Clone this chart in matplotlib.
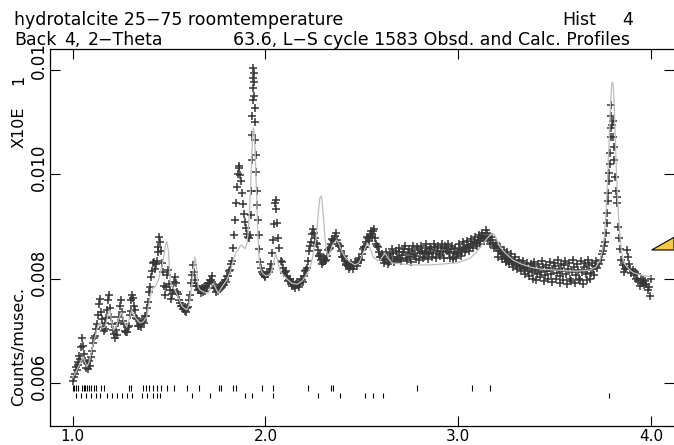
import numpy as np
import matplotlib
matplotlib.use("Agg")
import matplotlib.pyplot as plt
from matplotlib import transforms
from matplotlib.patches import Polygon

# ---------------- data (y values listed in units of 1e-5) ----------------
obs_x = [
    1.000, 1.005, 1.010, 1.015, 1.020, 1.025, 1.030, 1.035, 1.040, 1.045, 1.050, 1.055, 1.060, 1.065, 1.070,
    1.075, 1.080, 1.085, 1.090, 1.095, 1.100, 1.105, 1.110, 1.115, 1.120, 1.125, 1.130, 1.135, 1.140, 1.145,
    1.150, 1.155, 1.160, 1.165, 1.170, 1.175, 1.180, 1.185, 1.190, 1.195, 1.200, 1.205, 1.210, 1.215, 1.220,
    1.225, 1.230, 1.235, 1.240, 1.245, 1.250, 1.255, 1.260, 1.265, 1.270, 1.275, 1.280, 1.285, 1.290, 1.295,
    1.300, 1.305, 1.310, 1.315, 1.320, 1.325, 1.330, 1.335, 1.340, 1.345, 1.350, 1.355, 1.360, 1.365, 1.370,
    1.375, 1.380, 1.385, 1.390, 1.395, 1.400, 1.405, 1.410, 1.415, 1.420, 1.425, 1.430, 1.435, 1.440, 1.445,
    1.450, 1.455, 1.460, 1.465, 1.470, 1.475, 1.480, 1.485, 1.490, 1.495, 1.500, 1.505, 1.510, 1.515, 1.520,
    1.525, 1.530, 1.535, 1.540, 1.545, 1.550, 1.555, 1.560, 1.565, 1.570, 1.575, 1.580, 1.585, 1.590, 1.595,
    1.600, 1.605, 1.610, 1.615, 1.620, 1.625, 1.630, 1.635, 1.640, 1.645, 1.650, 1.655, 1.660, 1.665, 1.670,
    1.675, 1.680, 1.685, 1.690, 1.695, 1.700, 1.705, 1.710, 1.715, 1.720, 1.725, 1.730, 1.735, 1.740, 1.745,
    1.750, 1.755, 1.760, 1.765, 1.770, 1.775, 1.780, 1.785, 1.790, 1.795, 1.800, 1.805, 1.810, 1.815, 1.820,
    1.825, 1.830, 1.835, 1.840, 1.845, 1.850, 1.855, 1.860, 1.865, 1.870, 1.875, 1.880, 1.885, 1.890, 1.895,
    1.900, 1.905, 1.910, 1.915, 1.920, 1.923, 1.926, 1.928, 1.930, 1.932, 1.933, 1.934, 1.935, 1.936, 1.938,
    1.939, 1.941, 1.943, 1.946, 1.948, 1.951, 1.953, 1.956, 1.958, 1.961, 1.964, 1.967, 1.971, 1.975, 1.980,
    1.985, 1.990, 1.995, 2.000, 2.010, 2.020, 2.025, 2.030, 2.035, 2.040, 2.045, 2.050, 2.053, 2.056, 2.060,
    2.065, 2.070, 2.080, 2.090, 2.100, 2.110, 2.120, 2.130, 2.140, 2.150, 2.160, 2.170, 2.180, 2.190, 2.200,
    2.210, 2.220, 2.230, 2.240, 2.250, 2.260, 2.270, 2.280, 2.290, 2.300, 2.310, 2.320, 2.330, 2.340, 2.350,
    2.360, 2.370, 2.380, 2.390, 2.400, 2.410, 2.420, 2.430, 2.440, 2.450, 2.460, 2.470, 2.480, 2.490, 2.500,
    2.510, 2.520, 2.530, 2.540, 2.550, 2.560, 2.570, 2.580, 2.590, 2.600, 2.610, 2.620, 2.630, 2.640, 2.650,
    2.660, 2.670, 2.680, 2.690, 2.700, 2.710, 2.720, 2.730, 2.740, 2.750, 2.760, 2.770, 2.780, 2.790, 2.800,
    2.810, 2.820, 2.830, 2.840, 2.850, 2.860, 2.870, 2.880, 2.890, 2.900, 2.910, 2.920, 2.930, 2.940, 2.950,
    2.960, 2.970, 2.980, 2.990, 3.000, 3.010, 3.020, 3.030, 3.040, 3.050, 3.060, 3.070, 3.080, 3.090, 3.100,
    3.110, 3.120, 3.130, 3.140, 3.150, 3.160, 3.170, 3.180, 3.190, 3.200, 3.210, 3.220, 3.230, 3.240, 3.250,
    3.260, 3.270, 3.280, 3.290, 3.300, 3.310, 3.320, 3.330, 3.340, 3.350, 3.360, 3.370, 3.380, 3.390, 3.400,
    3.410, 3.420, 3.430, 3.440, 3.450, 3.460, 3.470, 3.480, 3.490, 3.500, 3.510, 3.520, 3.530, 3.540, 3.550,
    3.560, 3.570, 3.580, 3.590, 3.600, 3.610, 3.620, 3.630, 3.640, 3.650, 3.660, 3.670, 3.680, 3.690, 3.700,
    3.710, 3.720, 3.730, 3.740, 3.745, 3.750, 3.755, 3.760, 3.765, 3.770, 3.773, 3.776, 3.778, 3.781, 3.783,
    3.786, 3.788, 3.790, 3.791, 3.792, 3.794, 3.796, 3.800, 3.804, 3.807, 3.810, 3.813, 3.817, 3.821, 3.824,
    3.829, 3.834, 3.840, 3.846, 3.852, 3.858, 3.864, 3.870, 3.874, 3.880, 3.886, 3.892, 3.898, 3.904, 3.910,
    3.916, 3.922, 3.928, 3.934, 3.940, 3.946, 3.952, 3.958, 3.964, 3.970, 3.976, 3.982, 3.988, 3.994, 4.000,
    # interleaved points (second half-step)
    2.085, 2.095, 2.105, 2.115, 2.125, 2.135, 2.145, 2.155, 2.165, 2.175, 2.185, 2.195, 2.205, 2.215, 2.225,
    2.235, 2.245, 2.255, 2.265, 2.275, 2.285, 2.295, 2.305, 2.315, 2.325, 2.335, 2.345, 2.355, 2.365, 2.375,
    2.385, 2.395, 2.405, 2.415, 2.425, 2.435, 2.445, 2.455, 2.465, 2.475, 2.485, 2.495, 2.505, 2.515, 2.525,
    2.535, 2.545, 2.555, 2.565, 2.575, 2.585, 2.595, 2.605, 2.615,
    2.625, 2.635, 2.645, 2.655, 2.665, 2.675, 2.685, 2.695, 2.705, 2.715, 2.725, 2.735, 2.745, 2.755, 2.765,
    2.775, 2.785, 2.795, 2.805, 2.815, 2.825, 2.835, 2.845, 2.855, 2.865, 2.875, 2.885, 2.895, 2.905, 2.915,
    2.925, 2.935, 2.945, 2.955, 2.965, 2.975, 2.985, 2.995, 3.005, 3.015, 3.025, 3.035, 3.045, 3.055, 3.065,
    3.075, 3.085, 3.095, 3.105, 3.115, 3.125, 3.135, 3.145, 3.155, 3.165, 3.175, 3.185, 3.195,
    3.205, 3.215, 3.225, 3.235, 3.245, 3.255, 3.265, 3.275, 3.285, 3.295, 3.305, 3.315, 3.325, 3.335, 3.345,
    3.355, 3.365, 3.375, 3.385, 3.395, 3.405, 3.415, 3.425, 3.435, 3.445, 3.455, 3.465, 3.475, 3.485, 3.495,
    3.505, 3.515, 3.525, 3.535, 3.545, 3.555, 3.565, 3.575, 3.585, 3.595, 3.605, 3.615, 3.625, 3.635, 3.645,
    3.655, 3.665, 3.675, 3.685, 3.695, 3.705, 3.715,
]
obs_y = [
    604, 612, 618, 630, 624, 640, 634, 652, 646, 668, 686, 670, 655, 642, 628,
    638, 626, 642, 632, 650, 662, 676, 686, 690, 704, 712, 730, 752, 760, 735,
    722, 708, 700, 714, 704, 724, 740, 758, 768, 744, 726, 712, 702, 694, 686,
    702, 692, 714, 726, 748, 758, 736, 718, 712, 700, 698, 698, 708, 710, 730,
    738, 758, 768, 762, 748, 740, 724, 722, 710, 710, 712, 708, 718, 718, 714,
    728, 728, 744, 756, 774, 784, 802, 814, 830, 832, 818, 828, 834, 850, 860,
    880, 870, 852, 830, 812, 786, 768, 784, 806, 816, 790, 778, 760, 770, 778,
    794, 802, 792, 774, 770, 758, 754, 748, 748, 742, 744, 738, 746, 736, 744,
    746, 758, 768, 792, 806, 826, 812, 798, 786, 786, 778, 778, 778, 772, 782,
    774, 784, 776, 786, 782, 792, 792, 798, 798, 804, 794, 790, 782, 782, 774,
    782, 776, 784, 780, 788, 784, 792, 788, 798, 794, 804, 804, 814, 816, 828,
    834, 858, 884, 912, 944, 976, 1000, 1016, 1012, 998, 986, 964, 942, 924, 908,
    896, 886, 880, 878, 884, 922, 968, 1026, 1074, 1112, 1142, 1164, 1184, 1202, 1194,
    1176, 1150, 1126, 1100, 1066, 1036, 1004, 968, 940, 912, 884, 856, 832, 820, 812,
    808, 806, 804, 802, 808, 812, 818, 828, 848, 874, 904, 944, 950, 934, 906,
    878, 858, 834, 820, 812, 804, 798, 794, 790, 786, 790, 788, 792, 798, 804,
    816, 834, 862, 886, 888, 868, 854, 844, 836, 832, 834, 844, 856, 866, 874,
    882, 874, 862, 852, 842, 834, 828, 824, 822, 826, 824, 830, 832, 836, 846,
    860, 870, 878, 882, 886, 890, 878, 862, 850, 842, 838, 836, 844, 832, 840,
    848, 836, 842, 850, 838, 845, 856, 840, 848, 842, 852, 846, 838, 856, 848,
    852, 842, 858, 850, 846, 856, 848, 860, 852, 846, 858, 850, 862, 852, 848,
    856, 842, 850, 840, 848, 856, 852, 860, 856, 864, 860, 866, 870, 868, 874,
    872, 878, 882, 878, 888, 880, 874, 868, 862, 858, 852, 848, 846, 840, 844,
    836, 838, 832, 834, 826, 830, 822, 826, 818, 822, 814, 820, 812, 824, 816,
    808, 818, 812, 822, 806, 814, 820, 808, 816, 824, 810, 818, 804, 814, 826,
    808, 818, 800, 812, 822, 806, 816, 798, 812, 822, 808, 816, 826, 810, 818,
    824, 820, 828, 836, 846, 852, 862, 870, 888, 906, 926, 948, 964, 986, 1002,
    1020, 1040, 1132, 1112, 1070, 1088, 1094, 1102, 1070, 1052, 1026, 994, 968, 956, 944,
    898, 878, 856, 836, 826, 812, 818, 822, 854, 842, 828, 818, 810, 816, 806,
    812, 800, 808, 796, 786, 800, 792, 798, 788, 796, 790, 778, 784, 766, 800,
    # interleaved points
    832, 810, 814, 796, 800, 786, 794, 782, 794, 784, 800, 794, 814, 820, 852,
    870, 894, 878, 866, 844, 846, 828, 840, 836, 854, 858, 876, 872, 888, 866,
    862, 842, 844, 826, 832, 818, 830, 818, 832, 824, 840, 836, 856, 860, 880,
    872, 890, 880, 894, 866, 860, 842, 846, 830,
    850, 828, 846, 856, 832, 852, 838, 858, 834, 850, 862, 836, 856, 832, 862,
    844, 860, 836, 862, 840, 848, 866, 838, 860, 842, 866, 840, 862, 844, 866,
    840, 858, 866, 840, 862, 838, 858, 846, 866, 844, 870, 850, 872, 852, 876,
    858, 880, 862, 884, 866, 888, 872, 892, 876, 866, 880, 858, 868,
    842, 860, 838, 854, 832, 850, 828, 846, 822, 842, 818, 836, 814, 834, 808,
    830, 804, 828, 800, 832, 798, 828, 802, 834, 796, 826, 800, 832, 794, 830,
    800, 836, 792, 828, 798, 834, 790, 830, 796, 836, 792, 828, 800, 834, 790,
    830, 798, 836, 800, 830, 806, 834,
]

calc_x = [
    1.000, 1.017, 1.038, 1.055, 1.073, 1.085, 1.099, 1.116, 1.131, 1.142, 1.152, 1.168, 1.183, 1.193, 1.202,
    1.211, 1.225, 1.237, 1.254, 1.266, 1.280, 1.292, 1.306, 1.323, 1.349, 1.365, 1.384, 1.401, 1.416, 1.427,
    1.444, 1.462, 1.474, 1.481, 1.489, 1.497, 1.505, 1.515, 1.531, 1.546, 1.567, 1.591, 1.603, 1.617, 1.627,
    1.634, 1.642, 1.651, 1.660, 1.681, 1.703, 1.717, 1.729, 1.741, 1.755, 1.774, 1.799, 1.816, 1.833, 1.847,
    1.859, 1.868, 1.877, 1.886, 1.894, 1.903, 1.909, 1.914, 1.920, 1.925, 1.930, 1.934, 1.938, 1.941, 1.946,
    1.951, 1.955, 1.959, 1.964, 1.969, 1.977, 1.987, 2.003, 2.019, 2.029, 2.039, 2.047, 2.053, 2.060, 2.068,
    2.075, 2.091, 2.111, 2.137, 2.163, 2.189, 2.210, 2.226, 2.239, 2.246, 2.251, 2.259, 2.267, 2.275, 2.282,
    2.288, 2.293, 2.301, 2.309, 2.317, 2.324, 2.335, 2.350, 2.369, 2.381, 2.397, 2.412, 2.438, 2.464, 2.485,
    2.507, 2.528, 2.542, 2.559, 2.579, 2.594, 2.620, 2.636, 2.655, 2.698, 2.767, 2.853, 2.931, 2.992, 3.035,
    3.061, 3.092, 3.130, 3.155, 3.170, 3.186, 3.201, 3.217, 3.248, 3.285, 3.325, 3.372, 3.424, 3.510, 3.605,
    3.683, 3.714, 3.735, 3.748, 3.758, 3.766, 3.773, 3.779, 3.785, 3.790, 3.795, 3.799, 3.803, 3.808, 3.813,
    3.818, 3.824, 3.830, 3.839, 3.847, 3.856, 3.870, 3.891, 3.908, 3.943, 3.969, 4.000,
]
calc_y = [
    610, 621, 638, 650, 631, 640, 663, 688, 711, 715, 705, 707, 730, 740, 718,
    701, 707, 721, 736, 717, 707, 721, 740, 726, 715, 717, 726, 765, 782, 784,
    797, 822, 845, 864, 870, 851, 797, 784, 778, 765, 747, 740, 749, 784, 820,
    841, 820, 784, 778, 774, 772, 784, 791, 782, 772, 784, 797, 812, 835, 851,
    855, 862, 864, 860, 857, 866, 883, 912, 950, 998, 1046, 1080, 1088, 1079, 1046,
    989, 950, 902, 855, 830, 816, 809, 805, 807, 812, 824, 839, 847, 839, 826,
    816, 807, 799, 791, 789, 795, 805, 816, 832, 845, 855, 868, 893, 931, 954,
    958, 950, 916, 877, 851, 841, 851, 866, 874, 866, 851, 841, 832, 826, 830,
    849, 868, 858, 841, 835, 835, 849, 839, 830, 828, 826, 826, 828, 830, 835,
    839, 849, 868, 879, 885, 885, 874, 860, 847, 835, 828, 822, 818, 816, 814,
    816, 822, 835, 855, 883, 927, 979, 1036, 1088, 1136, 1167, 1176, 1171, 1142, 1084,
    1027, 969, 925, 879, 851, 835, 824, 816, 811, 807, 805, 803,
]

# reflection positions (two phases)
refl_row1 = [1.000, 1.008, 1.017, 1.027, 1.048, 1.057, 1.065, 1.074, 1.085, 1.095, 1.112, 1.121, 1.147, 1.162,
             1.294, 1.302, 1.363, 1.380, 1.397, 1.416, 1.436, 1.458, 1.488, 1.525, 1.591, 1.657, 1.760, 1.771,
             1.833, 1.847, 1.983, 2.040, 2.222, 2.340, 2.350, 2.787, 3.069, 3.164]
refl_row2 = [1.017, 1.043, 1.069, 1.095, 1.121, 1.142, 1.178, 1.204, 1.230, 1.256, 1.282, 1.308, 1.358, 1.386,
             1.417, 1.437, 1.453, 1.617, 1.712, 1.894, 1.928, 2.040, 2.274, 2.386, 2.516, 2.559, 2.611, 3.782]

x_ticks = [1.0, 2.0, 3.0, 4.0]
x_tick_labels = ["1.0", "2.0", "3.0", "4.0"]
y_ticks = [0.006, 0.008, 0.010, 0.012]
y_tick_labels = ["0.006", "0.008", "0.010", "0.01"]

obs_x = np.array(obs_x)
obs_y = np.array(obs_y) * 1e-5
calc_x = np.array(calc_x)
calc_y = np.array(calc_y) * 1e-5

# ---------------- figure ----------------
W, H = 674, 445
fig = plt.figure(figsize=(W / 100, H / 100), dpi=100)

def fx(px):
    return px / W

def fy(py):
    return 1 - py / H

ax = fig.add_axes([fx(50), fy(426), fx(674) - fx(50), fy(49) - fy(426)])
ax.set_xlim(0.8823, 4.1188)
ax.set_ylim(0.005177, 0.012393)

ax.plot(obs_x, obs_y, linestyle="none", marker="+", color="#363636",
        markersize=6.2, markeredgewidth=1.1, zorder=2)
ax.plot(calc_x, calc_y, color="#bdbdbd", linewidth=0.9, zorder=3)

ax.vlines(refl_row1, 0.005847, 0.005962, color="black", linewidth=0.8)
ax.vlines(refl_row2, 0.005707, 0.005803, color="black", linewidth=0.8)

for s in ["left", "top", "bottom"]:
    ax.spines[s].set_linewidth(0.9)
    ax.spines[s].set_color("black")
ax.spines["right"].set_visible(False)

ax.set_xticks(x_ticks)
ax.set_xticklabels(x_tick_labels, fontsize=11)
ax.set_yticks(y_ticks)
ax.set_yticklabels([])
ax.tick_params(axis="x", direction="in", length=7.2, width=0.8, top=True, bottom=True, pad=2)
ax.tick_params(axis="y", direction="in", length=7.2, width=0.8, left=True, right=True)
ax.minorticks_off()

# y tick labels (rotated)
blend = transforms.blended_transform_factory(fig.transFigure, ax.transData)
for v, lab in zip(y_ticks, y_tick_labels):
    shift = -17 if lab != "0.01" else -9
    tr = transforms.offset_copy(blend, fig=fig, x=0, y=shift, units="dots")
    fig.text(fx(39), v, lab, transform=tr, rotation=90, ha="center", va="bottom",
             fontsize=12)

# axis label texts
fig.text(fx(19), fy(346), "Counts/musec.", rotation=90, ha="center", va="center", fontsize=11.5)
fig.text(fx(19), fy(127), "X10E", rotation=90, ha="center", va="center", fontsize=11.5)
fig.text(fx(19), fy(80), "1", rotation=90, ha="center", va="center", fontsize=11.5)

# header lines
fs_t = 12.5
fig.text(fx(14), fy(25), "hydrotalcite 25\u221275 roomtemperature", ha="left", va="baseline", fontsize=fs_t)
fig.text(fx(562), fy(25), "Hist", ha="left", va="baseline", fontsize=fs_t)
fig.text(fx(622), fy(25), "4", ha="left", va="baseline", fontsize=fs_t)
fig.text(fx(14), fy(45), "Back", ha="left", va="baseline", fontsize=fs_t)
fig.text(fx(64), fy(45), "4,", ha="left", va="baseline", fontsize=fs_t)
fig.text(fx(88), fy(45), "2\u2212Theta", ha="left", va="baseline", fontsize=fs_t)
fig.text(fx(630), fy(45), "63.6, L\u2212S cycle 1583 Obsd. and Calc. Profiles",
         ha="right", va="baseline", fontsize=fs_t)

# scale pointer (yellow triangle at right edge)
tri = Polygon([(fx(651.7), fy(250)), (fx(674), fy(237.3)), (fx(674), fy(250))],
              closed=True, transform=fig.transFigure, facecolor="#f6c944",
              edgecolor="black", linewidth=0.8, clip_on=False)
fig.add_artist(tri)

fig.savefig("out.png", dpi=100)
